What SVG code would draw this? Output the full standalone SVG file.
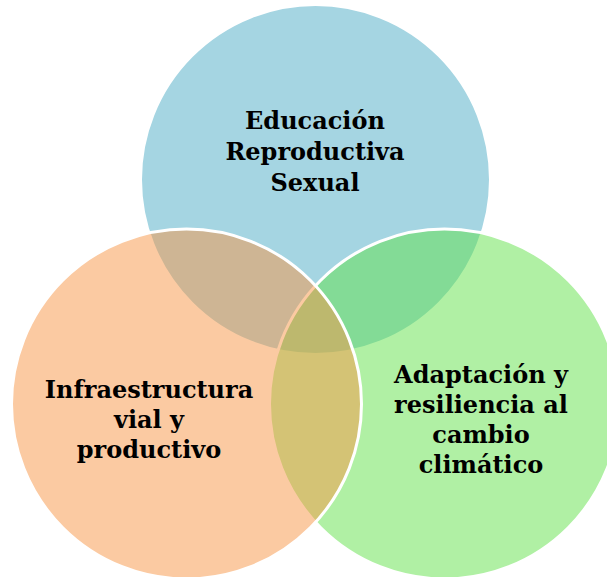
<svg xmlns="http://www.w3.org/2000/svg" width="607" height="577" viewBox="0 0 607 577">
<style>
.c{fill-opacity:0.5;stroke:#FFFFFF;stroke-width:3}
.t{font-family:"DejaVu Serif","Liberation Serif",serif;font-weight:bold;font-size:24px;fill:#000000;text-anchor:middle}
</style>
<rect width="607" height="577" fill="#FFFFFF"/>
<g id="connectors"/>
<g id="node-educacion">
<circle class="c" cx="315.5" cy="179.5" r="175" fill="#4BACC6"/>
</g>
<g id="node-adaptacion">
<circle class="c" cx="444.5" cy="404" r="175" fill="#61E149"/>
</g>
<g id="node-infraestructura">
<circle class="c" cx="186.5" cy="404" r="175" fill="#F79646"/>
</g>
<g id="labels">
<text class="t" x="315" y="129">Educación</text>
<text class="t" x="315" y="160">Reproductiva</text>
<text class="t" x="315" y="191">Sexual</text>
<text class="t" x="149" y="398">Infraestructura</text>
<text class="t" x="149" y="428">vial y</text>
<text class="t" x="149" y="458">productivo</text>
<text class="t" x="481" y="383">Adaptación y</text>
<text class="t" x="481" y="413">resiliencia al</text>
<text class="t" x="481" y="443">cambio</text>
<text class="t" x="481" y="473">climático</text>
</g>
</svg>
